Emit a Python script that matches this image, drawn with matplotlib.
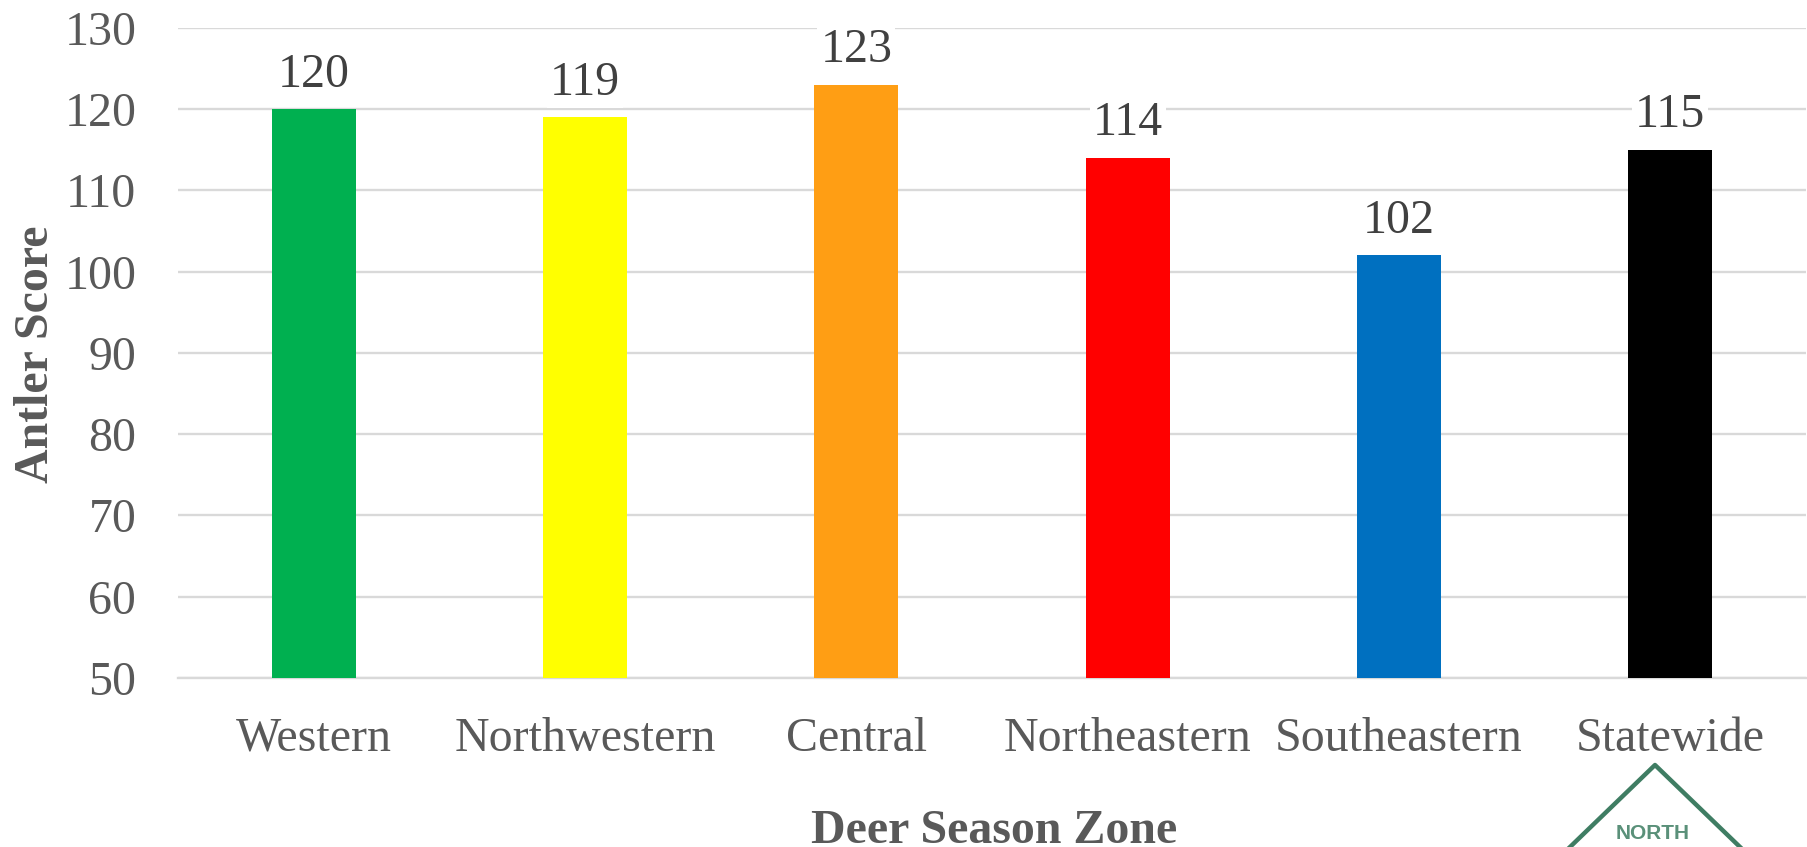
import matplotlib
matplotlib.use("Agg")
import matplotlib.pyplot as plt
from matplotlib.lines import Line2D

zones = ["Western", "Northwestern", "Central", "Northeastern", "Southeastern", "Statewide"]
scores = [120, 119, 123, 114, 102, 115]
colors = ["#00B050", "#FFFF00", "#FF9E14", "#FF0000", "#0070C0", "#000000"]
yticks = list(range(50, 131, 10))

W, H = 1807, 847
FS = 34.5
plt.rcParams["font.family"] = ["Liberation Serif", "DejaVu Serif"]
fig = plt.figure(figsize=(W / 100, H / 100), dpi=100, facecolor="white")
L, R, T, B = 178, 1806, 28, 678
ax = fig.add_axes([L / W, 1 - B / H, (R - L) / W, (B - T) / H])

x = list(range(len(zones)))
ax.bar(x, scores, width=0.31, color=colors, zorder=3)
ax.set_xlim(-0.5, 5.5)
ax.set_ylim(50, 130)
ax.set_yticks(yticks)
ax.set_xticks(x, zones)
ax.grid(axis="y", color="#D9D9D9", lw=1.7, zorder=0)
ax.set_axisbelow(True)
for s in ["top", "right", "left"]:
    ax.spines[s].set_visible(False)
ax.spines["bottom"].set_color("#D9D9D9")
ax.spines["bottom"].set_linewidth(1.7)
ax.tick_params(axis="both", length=0, labelcolor="#595959", labelsize=FS)
ax.tick_params(axis="x", pad=28)
ax.tick_params(axis="y", pad=30)

for xi, v in zip(x, scores):
    ax.annotate(str(v), (xi, v), xytext=(0, 9), textcoords="offset points",
                ha="center", va="bottom", fontsize=FS, color="#404040", zorder=4,
                bbox=dict(facecolor="white", edgecolor="none", pad=2))

fig.text(36 / W, 1 - 354 / H, "Antler Score", rotation=90, ha="center", va="center",
         fontsize=FS, fontweight="bold", color="#595959")
fig.text(994 / W, 1 - 843 / H, "Deer Season Zone", ha="center", va="baseline",
         fontsize=FS, fontweight="bold", color="#595959")

# Logo fragment at the lower right, cut by the image edge
green = "#3F7D63"
fig.add_artist(Line2D([1570 / W, 1655 / W, 1740 / W],
                      [1 - 847 / H, 1 - 765 / H, 1 - 847 / H],
                      color=green, lw=3.2, transform=fig.transFigure))
fig.text(1653 / W, 1 - 833 / H, "NORTH", ha="center", va="center", fontsize=15,
         fontweight="bold", color="#5A9079", family=["Liberation Sans", "DejaVu Sans"])

fig.savefig("out.png", dpi=100, facecolor="white")
